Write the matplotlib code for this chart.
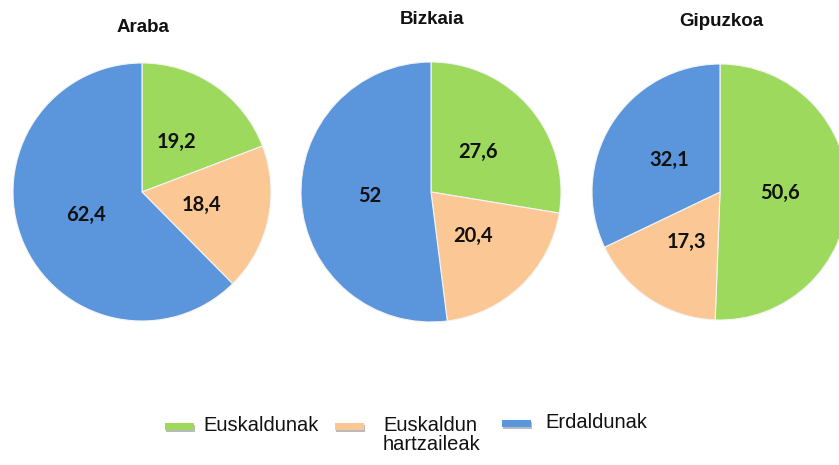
import matplotlib
matplotlib.use("Agg")
import matplotlib.pyplot as plt
from matplotlib.patches import Rectangle

regions = ["Araba", "Bizkaia", "Gipuzkoa"]
categories = ["Euskaldunak", "Euskaldun\nhartzaileak", "Erdaldunak"]
araba = [19.2, 18.4, 62.4]
bizkaia = [27.6, 20.4, 52.0]
gipuzkoa = [50.6, 17.3, 32.1]
series = [araba, bizkaia, gipuzkoa]
colors = ["#9DD95C", "#FBC895", "#5B96DC"]

W, H = 839, 465
fig = plt.figure(figsize=(W / 100, H / 100), dpi=100)
fig.patch.set_facecolor("white")

# pixel geometry: (center_x, center_y, radius)
geom = [(142, 192, 129), (431, 192, 130), (720, 192, 128)]
title_y = [28, 20, 22]


def fmt(v):
    s = ("%.1f" % v).rstrip("0").rstrip(".")
    return s.replace(".", ",")


for vals, name, (cx, cy, r), ty in zip(series, regions, geom, title_y):
    ax = fig.add_axes([(cx - r) / W, (H - cy - r) / H, 2 * r / W, 2 * r / H])
    wedges, texts = ax.pie(
        vals, colors=colors, startangle=90, counterclock=False,
        labels=[fmt(v) for v in vals], labeldistance=0.47,
        wedgeprops=dict(edgecolor="#f4f4f4", linewidth=0.8),
        textprops=dict(fontsize=14.5, fontweight="bold", family="Lato",
                       color="#111111", ha="center", va="center"),
    )
    for w in wedges:
        w.set_clip_on(False)
    ax.set_xlim(-1, 1)
    ax.set_ylim(-1, 1)
    ax.set_aspect("auto")
    ax.axis("off")
    fig.text((cx + 1) / W, 1 - ty / H, name, ha="center", va="center",
             fontsize=13.5, fontweight="bold", family="Liberation Sans",
             color="#111111")

# legend (manual layout)
leg_patch = [(165, 423), (335, 423), (502, 420)]
leg_text = [(203, 416), (383, 416), (545, 413)]
for col, lab, (px, py), (tx, ty) in zip(colors, categories, leg_patch, leg_text):
    fig.patches.append(Rectangle((px / W + 0.001, 1 - (py + 9) / H), 29 / W, 7 / H,
                                 transform=fig.transFigure, facecolor="#777777",
                                 edgecolor="none", alpha=0.5))
    fig.patches.append(Rectangle((px / W, 1 - (py + 7) / H), 29 / W, 7 / H,
                                 transform=fig.transFigure, facecolor=col,
                                 edgecolor="none"))
    fig.text(tx / W, 1 - ty / H, lab, ha="left", va="top",
             fontsize=14.5, family="Liberation Sans", color="#111111",
             linespacing=1.0)

fig.savefig("out.png", dpi=100)
